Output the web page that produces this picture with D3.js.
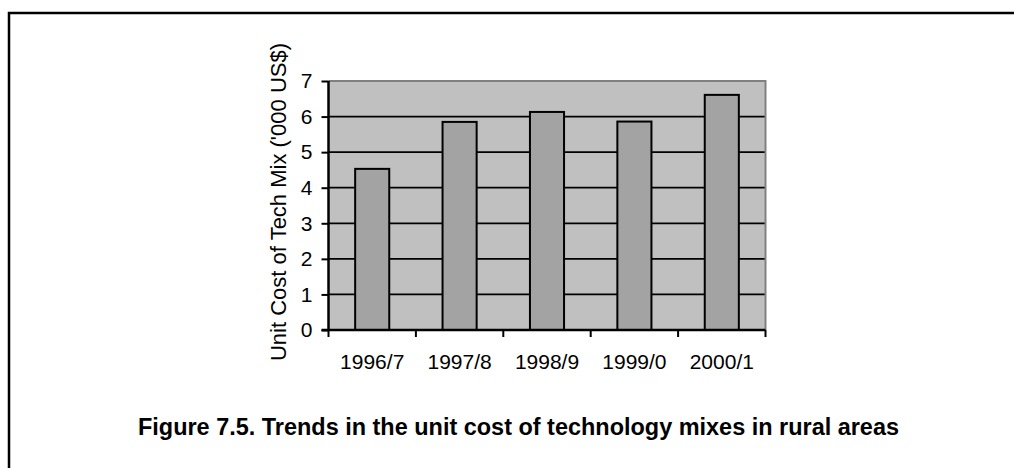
<!DOCTYPE html>
<html>
<head>
<meta charset="utf-8">
<script src="https://cdn.jsdelivr.net/npm/d3@7"></script>
<style>
html,body{margin:0;padding:0;background:#fff;}
svg{display:block;}
</style>
</head>
<body>
<svg id="chart" width="1014" height="468"></svg>
<script>
const categories = ["1996/7", "1997/8", "1998/9", "1999/0", "2000/1"];
const values = [4.53, 5.85, 6.13, 5.86, 6.61];
const yTicks = [0, 1, 2, 3, 4, 5, 6, 7];
const yLabel = "Unit Cost of Tech Mix ('000 US$)";
const caption = "Figure 7.5. Trends in the unit cost of technology mixes in rural areas";

const svg = d3.select("#chart");
const L = 328.5, R = 765.5, T = 81, B = 330;

// frame (top and left)
svg.append("path").attr("d", "M9,468V13H1014")
  .attr("fill", "none").attr("stroke", "#000").attr("stroke-width", 2.5);

const x = d3.scaleBand().domain(categories).range([L, R]).paddingInner(0.61).paddingOuter(0.305);
const xb = d3.scaleBand().domain(categories).range([L, R]).padding(0);
const y = d3.scaleLinear().domain([0, 7]).range([B, T]);

// plot background
svg.append("rect").attr("x", L).attr("y", T).attr("width", R - L).attr("height", B - T).attr("fill", "#c0c0c0");

// gridlines
svg.append("g").selectAll("line").data(yTicks.filter(d => d > 0 && d < 7)).join("line")
  .attr("x1", L).attr("x2", R).attr("y1", d => y(d)).attr("y2", d => y(d))
  .attr("stroke", "#000").attr("stroke-width", 1.8);

// top & right gray border
svg.append("path").attr("d", `M${L},${T}H${R}V${B}`).attr("fill", "none").attr("stroke", "#808080").attr("stroke-width", 2);

// bars
svg.append("g").selectAll("rect").data(values).join("rect")
  .attr("x", (d, i) => x(categories[i]))
  .attr("width", x.bandwidth())
  .attr("y", d => y(d))
  .attr("height", d => y(0) - y(d))
  .attr("fill", "#a3a3a3").attr("stroke", "#000").attr("stroke-width", 2);

// y axis
const yAxis = d3.axisLeft(y).tickValues(yTicks).tickSize(7).tickPadding(9).tickFormat(d3.format("d"));
const gy = svg.append("g").attr("transform", `translate(${L},0)`).call(yAxis);
gy.select(".domain").attr("stroke", "#000").attr("stroke-width", 2.5).attr("d", `M0,${T}V${B}`);
gy.selectAll(".tick line").attr("stroke", "#000").attr("stroke-width", 2);
gy.selectAll("text").attr("font-family", "Liberation Sans, Arial, sans-serif").attr("font-size", 21).attr("fill", "#000");

// x axis: ticks at category boundaries
const gx = svg.append("g").attr("transform", `translate(0,${B})`);
gx.append("line").attr("x1", L - 7).attr("x2", R).attr("y1", 0).attr("y2", 0).attr("stroke", "#000").attr("stroke-width", 2.5);
const bounds = categories.map(c => xb(c)).concat([xb(categories[categories.length - 1]) + xb.bandwidth()]);
gx.selectAll("line.tk").data(bounds).join("line").attr("class", "tk")
  .attr("x1", d => d).attr("x2", d => d).attr("y1", 0).attr("y2", 7)
  .attr("stroke", "#000").attr("stroke-width", 2);
gx.selectAll("text").data(categories).join("text")
  .attr("x", d => xb(d) + xb.bandwidth() / 2).attr("y", 39)
  .attr("text-anchor", "middle")
  .attr("font-family", "Liberation Sans, Arial, sans-serif").attr("font-size", 21).attr("fill", "#000")
  .text(d => d);

// y label
svg.append("text").attr("transform", `translate(286,202) rotate(-90)`)
  .attr("text-anchor", "middle")
  .attr("font-family", "Liberation Sans, Arial, sans-serif").attr("font-size", 22).attr("fill", "#000")
  .text(yLabel);

// caption
svg.append("text").attr("x", 138).attr("y", 435)
  .attr("font-family", "Liberation Sans, Arial, sans-serif").attr("font-weight", "bold")
  .attr("font-size", 23).attr("fill", "#000")
  .attr("textLength", 761).attr("lengthAdjust", "spacingAndGlyphs")
  .text(caption);
</script>
</body>
</html>
